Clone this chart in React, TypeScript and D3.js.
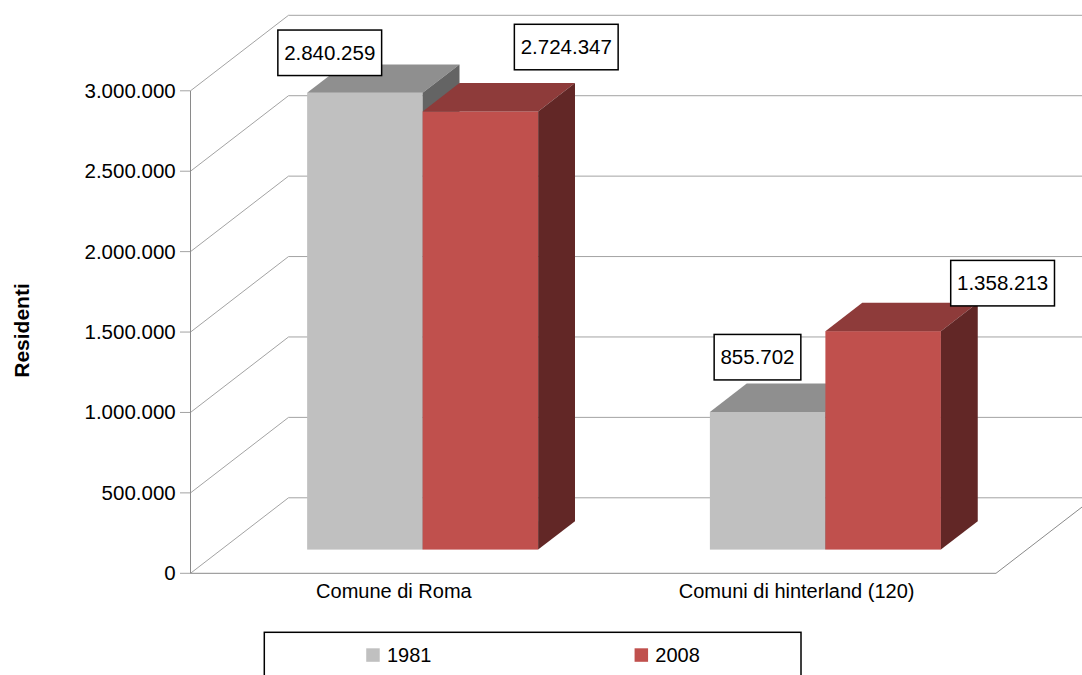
import React from "react";
import * as d3 from "d3";

// Resident population by area, 1981 vs 2008
const categories = ["Comune di Roma", "Comuni di hinterland (120)"];
const series = ["1981", "2008"];
const values1981 = [2840259, 855702];
const values2008 = [2724347, 1358213];
const yTicks = [0, 500000, 1000000, 1500000, 2000000, 2500000, 3000000];
const yTitle = "Residenti";

const seriesValues = [values1981, values2008];

// Face colours per series: front, top, side
const palette = [
  { front: "#c0c0c0", top: "#8f8f8f", side: "#646464" },
  { front: "#c0504d", top: "#8e3b3a", side: "#622726" },
];

// Label box centre offsets from the back-top centre of each bar [category][series]
const labelOffsets = [
  [[-72, -11.6], [49, -36]],
  [[-47, -26.4], [82.6, -19.6]],
];

const W = 1082;
const H = 675;
const font = "'Liberation Sans', Arial, Helvetica, sans-serif";

const itFormat = d3.formatLocale({
  decimal: ",",
  thousands: ".",
  grouping: [3],
  currency: ["€", ""],
}).format(",d");

// Front plane and depth of the 3D box
const plotLeft = 190.5;
const plotRight = 996;
const depth = { x: 98, y: -75.5 };
const barZ0 = 0.314;
const barZ1 = 0.69;

const y = d3.scaleLinear().domain([0, 3000000]).range([573.3, 90.8]);
const x0 = d3
  .scaleBand<string>()
  .domain(categories)
  .range([plotLeft, plotRight])
  .paddingInner(0.4264)
  .paddingOuter(0.2132);
const x1 = d3.scaleBand<string>().domain(series).range([0, x0.bandwidth()]);

const pts = (p: [number, number][]) => p.map((q) => q.join(",")).join(" ");

export default function App() {
  const gridColor = "#a3a3a3";
  const axisColor = "#8a8a8a";
  const zeroY = y(0);

  const shift0 = { x: depth.x * barZ0, y: depth.y * barZ0 };
  const bd = { x: depth.x * (barZ1 - barZ0), y: depth.y * (barZ1 - barZ0) };

  const bars: JSX.Element[] = [];
  const labels: JSX.Element[] = [];

  categories.forEach((cat, ci) => {
    series.forEach((s, si) => {
      const v = seriesValues[si][ci];
      const xl = (x0(cat) as number) + (x1(s) as number) + shift0.x;
      const w = x1.bandwidth();
      const yt = y(v) + shift0.y;
      const yb = y(0) + shift0.y;
      const c = palette[si];
      bars.push(
        <g key={`${ci}-${si}`}>
          <rect x={xl} y={yt} width={w} height={yb - yt} fill={c.front} />
          <polygon
            points={pts([
              [xl, yt],
              [xl + w, yt],
              [xl + w + bd.x, yt + bd.y],
              [xl + bd.x, yt + bd.y],
            ])}
            fill={c.top}
          />
          <polygon
            points={pts([
              [xl + w, yt],
              [xl + w + bd.x, yt + bd.y],
              [xl + w + bd.x, yb + bd.y],
              [xl + w, yb],
            ])}
            fill={c.side}
          />
        </g>
      );
      const ax = xl + w / 2 + bd.x;
      const ay = yt + bd.y;
      const [ox, oy] = labelOffsets[ci][si];
      const cx = ax + ox;
      const cy = ay + oy;
      const text = itFormat(v);
      const tw = text.length * 0.5 * 20.5 + 0.0; // rough estimate refined below
      const digits = text.replace(/\./g, "").length;
      const dots = text.length - digits;
      const textW = (digits * 0.556 + dots * 0.278) * 20.5;
      const bw = textW + 12.6;
      const bh = 45.5;
      void tw;
      labels.push(
        <g key={`l-${ci}-${si}`}>
          <rect
            x={cx - bw / 2}
            y={cy - bh / 2}
            width={bw}
            height={bh}
            fill="#ffffff"
            stroke="#000000"
            strokeWidth={1.5}
          />
          <text
            x={cx}
            y={cy + 7}
            textAnchor="middle"
            fontFamily={font}
            fontSize={20.5}
            fill="#000"
          >
            {text}
          </text>
        </g>
      );
    });
  });

  // Legend
  const legend = { left: 264.3, top: 632.3, right: 801, bottom: 700 };
  const lx = d3
    .scaleBand<string>()
    .domain(series)
    .range([legend.left, legend.right]);

  return (
    <svg
      width={W}
      height={H}
      style={{ position: "absolute", left: 0, top: 0, background: "#fff" }}
    >
      {/* back wall and left wall grid lines */}
      {yTicks.map((t) => {
        const fy = y(t);
        return (
          <g key={`g-${t}`}>
            <polyline
              points={pts([
                [plotLeft - 10.5, fy],
                [plotLeft, fy],
                [plotLeft + depth.x, fy + depth.y],
                [plotRight + depth.x, fy + depth.y],
              ])}
              fill="none"
              stroke={gridColor}
              strokeWidth={1}
            />
            <text
              x={175.7}
              y={fy + 7}
              textAnchor="end"
              fontFamily={font}
              fontSize={20.5}
              fill="#000"
            >
              {itFormat(t)}
            </text>
          </g>
        );
      })}
      {/* floor */}
      <polyline
        points={pts([
          [plotLeft, zeroY],
          [plotRight, zeroY],
          [plotRight + depth.x, zeroY + depth.y],
        ])}
        fill="none"
        stroke={axisColor}
        strokeWidth={1}
      />
      <line
        x1={plotLeft}
        x2={plotLeft}
        y1={y(3000000)}
        y2={zeroY}
        stroke={axisColor}
        strokeWidth={1}
      />

      {bars}

      {/* category labels */}
      {categories.map((c) => (
        <text
          key={c}
          x={(x0(c) as number) + x0.bandwidth() / 2 + 2}
          y={598}
          textAnchor="middle"
          fontFamily={font}
          fontSize={20}
          fill="#000"
        >
          {c}
        </text>
      ))}

      {/* y axis title */}
      <text
        transform="translate(29,330.5) rotate(-90)"
        textAnchor="middle"
        fontFamily={font}
        fontSize={21}
        fontWeight="bold"
        fill="#000"
      >
        {yTitle}
      </text>

      {labels}

      {/* legend */}
      <rect
        x={legend.left}
        y={legend.top}
        width={legend.right - legend.left}
        height={legend.bottom - legend.top}
        fill="#fff"
        stroke="#000"
        strokeWidth={1.5}
      />
      {series.map((s, i) => {
        const itemW = 13.5 + 7 + 44;
        const sx = (lx(s) as number) + lx.bandwidth() / 2 - itemW / 2;
        return (
          <g key={`lg-${s}`}>
            <rect x={sx} y={648.3} width={13.5} height={13.5} fill={palette[i].front} />
            <text
              x={sx + 20.7}
              y={662}
              fontFamily={font}
              fontSize={20}
              fill="#000"
            >
              {s}
            </text>
          </g>
        );
      })}
    </svg>
  );
}
